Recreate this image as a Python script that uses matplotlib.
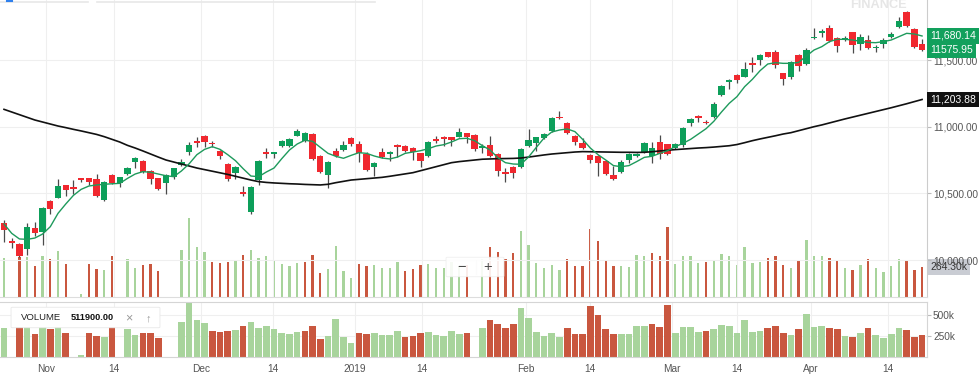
import numpy as np
import matplotlib.pyplot as plt
from matplotlib.patches import FancyBboxPatch

plt.rcParams['font.family'] = ['Liberation Sans', 'DejaVu Sans']

# ---------- Datos ----------
opens = [10280, 10140, 10120, 10080, 10238, 10213, 10445, 10468, 10560, 10550,
         10613, 10613, 10608, 10450, 10640, 10580, 10648, 10733, 10743, 10670,
         10613, 10575, 10625, 10713, 10813, 10893, 10930, 10880, 10820, 10720,
         10650, 10508, 10358, 10600, 10813, 10793, 10855, 10855, 10933, 10893,
         10945, 10780, 10638, 10820, 10825, 10918, 10868, 10795, 10700, 10808,
         10793, 10863, 10858, 10838, 10800, 10780, 10905, 10920, 10920, 10925,
         10950, 10935, 10840, 10863, 10793, 10658, 10700, 10695, 10858, 10880,
         10913, 10968, 11075, 11030, 10933, 10880, 10788, 10783, 10743, 10638,
         10663, 10750, 10780, 10813, 10780, 10883, 10868, 10838, 10863, 11025,
         11080, 11038, 11070, 11238, 11333, 11388, 11375, 11480, 11500, 11558,
         11558, 11400, 11370, 11538, 11470, 11663, 11705, 11743, 11663, 11650,
         11708, 11618, 11650, 11588, 11620, 11675, 11745, 11863, 11730, 11618]

highs = [10300, 10163, 10125, 10280, 10283, 10395, 10450, 10608, 10565, 10600,
         10618, 10618, 10645, 10593, 10645, 10625, 10700, 10775, 10748, 10675,
         10618, 10645, 10690, 10755, 10888, 10920, 10938, 10895, 10825, 10725,
         10705, 10555, 10555, 10750, 10838, 10813, 10900, 10915, 10980, 10963,
         10955, 10785, 10740, 10838, 10895, 10925, 10893, 10813, 10738, 10838,
         10820, 10870, 10863, 10850, 10805, 10893, 10930, 10930, 10925, 10988,
         10955, 10943, 10870, 10930, 10800, 10688, 10705, 10838, 10983, 10925,
         10955, 11072, 11118, 11038, 10938, 10913, 10792, 10787, 10747, 10708,
         10750, 10800, 10805, 10888, 10888, 10938, 10872, 10875, 11000, 11063,
         11088, 11050, 11188, 11313, 11355, 11393, 11488, 11525, 11543, 11563,
         11575, 11405, 11493, 11543, 11588, 11738, 11730, 11763, 11675, 11680,
         11713, 11693, 11688, 11613, 11663, 11708, 11820, 11866, 11738, 11655]

lows = [10138, 10088, 10025, 10038, 10180, 10113, 10345, 10463, 10480, 10495,
        10588, 10563, 10470, 10443, 10570, 10550, 10638, 10688, 10650, 10570,
        10525, 10493, 10608, 10708, 10788, 10850, 10850, 10850, 10755, 10595,
        10608, 10480, 10343, 10563, 10763, 10763, 10850, 10850, 10930, 10888,
        10750, 10650, 10538, 10775, 10820, 10858, 10738, 10670, 10633, 10763,
        10743, 10770, 10813, 10750, 10700, 10775, 10880, 10855, 10858, 10920,
        10875, 10820, 10805, 10775, 10633, 10583, 10618, 10688, 10850, 10820,
        10905, 10963, 11055, 10945, 10863, 10833, 10725, 10630, 10638, 10600,
        10655, 10730, 10770, 10800, 10730, 10755, 10788, 10833, 10850, 11005,
        11033, 11018, 11063, 11233, 11280, 11325, 11370, 11413, 11463, 11520,
        11438, 11313, 11355, 11420, 11463, 11655, 11670, 11638, 11563, 11645,
        11555, 11575, 11580, 11558, 11588, 11663, 11738, 11750, 11588, 11570]

closes = [10225, 10125, 10033, 10250, 10200, 10388, 10385, 10555, 10525, 10530,
          10598, 10588, 10483, 10588, 10580, 10620, 10688, 10768, 10663, 10605,
          10533, 10635, 10688, 10733, 10865, 10880, 10888, 10868, 10783, 10605,
          10700, 10493, 10550, 10740, 10795, 10808, 10893, 10910, 10970, 10955,
          10755, 10663, 10733, 10783, 10863, 10868, 10800, 10675, 10730, 10770,
          10808, 10850, 10820, 10808, 10745, 10888, 10890, 10908, 10900, 10958,
          10925, 10833, 10858, 10780, 10668, 10643, 10655, 10830, 10900, 10920,
          10945, 11068, 11063, 10950, 10888, 10838, 10750, 10725, 10645, 10608,
          10738, 10793, 10795, 10880, 10838, 10795, 10795, 10870, 10993, 11055,
          11063, 11025, 11170, 11305, 11350, 11350, 11430, 11465, 11538, 11525,
          11463, 11358, 11488, 11455, 11575, 11675, 11720, 11645, 11605, 11668,
          11613, 11675, 11593, 11600, 11650, 11695, 11795, 11755, 11600, 11575.95]

# volumen en miles
volumes_k = [348, 0, 360, 360, 280, 363, 339, 414, 290, 0,
             20, 290, 250, 240, 362, 0, 336, 260, 288, 292,
             230, 0, 0, 418, 710, 447, 401, 310, 301, 310,
             320, 376, 418, 350, 367, 330, 292, 278, 301, 308,
             372, 215, 252, 455, 234, 169, 292, 274, 283, 258,
             262, 312, 234, 246, 283, 295, 262, 254, 314, 274,
             283, 0, 343, 443, 399, 342, 391, 590, 463, 302,
             254, 282, 242, 343, 274, 274, 610, 504, 330, 274,
             274, 270, 375, 370, 395, 362, 624, 290, 362, 362,
             302, 310, 330, 383, 370, 282, 443, 302, 314, 350,
             370, 282, 262, 330, 511.9, 362, 370, 350, 330, 254,
             242, 282, 342, 262, 221, 274, 342, 322, 242, 264.3]

# 1 = barra de volumen verde, 0 = roja
vol_up = [1, 1, 0, 1, 0, 1, 0, 1, 0, 0,
          1, 0, 0, 1, 0, 1, 1, 1, 0, 0,
          0, 1, 1, 1, 1, 1, 1, 0, 0, 0,
          1, 0, 1, 1, 1, 1, 1, 1, 1, 0,
          0, 0, 1, 1, 1, 1, 0, 0, 1, 1,
          1, 1, 0, 0, 0, 1, 1, 1, 1, 1,
          0, 0, 1, 0, 0, 0, 0, 1, 1, 1,
          1, 1, 1, 0, 0, 0, 0, 0, 0, 0,
          1, 1, 1, 1, 0, 0, 0, 1, 1, 1,
          1, 0, 1, 1, 1, 1, 1, 1, 1, 0,
          0, 0, 1, 0, 1, 1, 1, 0, 0, 1,
          0, 1, 0, 1, 1, 1, 1, 0, 0, 0]

ma_fast = [10270, 10200, 10158, 10155, 10165, 10195, 10250, 10350, 10420, 10485,
           10530, 10555, 10563, 10568, 10572, 10575, 10612, 10645, 10663, 10658,
           10645, 10632, 10625, 10668, 10722, 10790, 10830, 10850, 10830, 10790,
           10745, 10685, 10630, 10625, 10660, 10690, 10760, 10825, 10870, 10898,
           10890, 10845, 10800, 10778, 10763, 10785, 10805, 10800, 10780, 10765,
           10758, 10772, 10800, 10810, 10820, 10835, 10855, 10865, 10885, 10910,
           10913, 10895, 10858, 10825, 10768, 10730, 10720, 10718, 10773, 10845,
           10915, 10960, 10975, 10983, 10963, 10905, 10840, 10790, 10750, 10708,
           10700, 10708, 10738, 10770, 10778, 10800, 10820, 10850, 10875, 10905,
           10945, 10985, 11040, 11110, 11175, 11225, 11300, 11355, 11420, 11470,
           11480, 11475, 11475, 11482, 11530, 11575, 11600, 11638, 11655, 11655,
           11650, 11640, 11632, 11630, 11638, 11650, 11675, 11700, 11695, 11680.14]

ma_slow = [11130, 11110, 11090, 11070, 11050, 11035, 11020, 11005, 10993, 10980,
           10968, 10955, 10942, 10925, 10905, 10885, 10860, 10840, 10818, 10795,
           10772, 10750, 10735, 10720, 10705, 10690, 10678, 10666, 10654, 10642,
           10628, 10614, 10600, 10588, 10582, 10578, 10575, 10572, 10570, 10567,
           10565, 10563, 10568, 10580, 10590, 10600, 10605, 10610, 10615, 10620,
           10628, 10637, 10646, 10655, 10670, 10685, 10700, 10715, 10730, 10738,
           10744, 10750, 10756, 10758, 10760, 10761, 10762, 10765, 10772, 10780,
           10788, 10795, 10800, 10805, 10810, 10813, 10812, 10811, 10810, 10809,
           10808, 10808, 10807, 10808, 10812, 10818, 10823, 10828, 10832, 10836,
           10840, 10843, 10847, 10852, 10857, 10866, 10880, 10895, 10908, 10920,
           10932, 10945, 10955, 10970, 10985, 11000, 11013, 11028, 11043, 11058,
           11072, 11086, 11100, 11114, 11128, 11142, 11157, 11172, 11188, 11203.88]

tick_pos = [5.5, 14.2, 25.5, 34.9, 45.5, 54.15, 67.6, 76.0, 86.6, 95.0, 104.6, 114.6]
tick_labels = ["Nov", "14", "Dec", "14", "2019", "14", "Feb", "14", "Mar", "14", "Apr", "14"]
price_ticks = [10000, 10500, 11000, 11500]
vol_ticks = [250000, 500000]
hover_bar = 104

# ---------- Colores ----------
GREEN = "#0d9f5a"
RED = "#f0282f"
VGREEN = "#a8d49c"
VRED = "#c9573f"
GRID = "#efefef"
TXT = "#555555"

# ---------- Figura ----------
W, H = 980, 376
def px_rect(x0, y0, x1, y1):
    return [x0 / W, 1 - y1 / H, (x1 - x0) / W, (y1 - y0) / H]

fig = plt.figure(figsize=(W / 100, H / 100), dpi=100)
ax = fig.add_axes(px_rect(0, 0, 926.7, 296.7))
axv = fig.add_axes(px_rect(0, 302.3, 926.7, 356.7))
axo = ax.twinx()
ax.set_zorder(axo.get_zorder() + 1)
ax.patch.set_visible(False)

idx = np.arange(len(closes))
o = np.array(opens)
h = np.array(highs)
l = np.array(lows)
c = np.array(closes)
vol = np.array(volumes_k) * 1000
vcol = np.where(np.array(vol_up) == 1, VGREEN, VRED)

# velas
up = c >= o
body = c - o
body = np.where(np.abs(body) < 7, np.where(up, 7, -7), body)
ax.vlines(idx, l, h, color="#4a4a4a", lw=0.9, zorder=2)
ax.bar(idx, body, bottom=o, width=0.82, color=np.where(up, GREEN, RED),
       linewidth=0, zorder=3)

# medias móviles
ax.plot(idx, ma_slow, color="#111111", lw=1.2, zorder=4)
ax.plot(idx, ma_fast, color="#1e9a5c", lw=1.0, zorder=4)

ax.set_xlim(-0.52, 119.6)
ax.set_ylim(9725, 11950)
ax.set_xticks(tick_pos)
ax.tick_params(axis="x", length=0, labelbottom=False)
ax.yaxis.tick_right()
ax.set_yticks(price_ticks)
ax.set_yticklabels([f"{v:,.2f}" for v in price_ticks])
ax.tick_params(axis="y", length=3, color="#bbbbbb", labelsize=7.3,
               labelcolor=TXT, pad=1.5)
ax.grid(color=GRID, lw=0.8)
ax.set_axisbelow(True)
for s in ["top", "left"]:
    ax.spines[s].set_visible(False)
ax.spines["right"].set_color("#cccccc")
ax.spines["bottom"].set_color("#dddddd")
ax.spines["right"].set_linewidth(0.8)
ax.spines["bottom"].set_linewidth(0.8)

# volumen superpuesto
axo.bar(idx, vol, width=0.3, color=vcol, linewidth=0)
axo.set_ylim(0, 296.7 * 9000)
axo.set_yticks([])
for s in axo.spines.values():
    s.set_visible(False)

# panel de volumen
axv.bar(idx, vol, width=0.86, color=vcol, linewidth=0)
axv.set_xlim(-0.52, 119.6)
axv.set_ylim(0, 657000)
axv.set_xticks(tick_pos)
axv.set_xticklabels(tick_labels)
axv.tick_params(axis="x", length=0, labelsize=7.3, labelcolor=TXT, pad=5)
axv.yaxis.tick_right()
axv.set_yticks(vol_ticks)
axv.set_yticklabels([f"{v // 1000}k" for v in vol_ticks])
axv.tick_params(axis="y", length=3, color="#bbbbbb", labelsize=7.3,
                labelcolor=TXT, pad=1.5)
axv.grid(color=GRID, lw=0.8)
axv.set_axisbelow(True)
axv.spines["left"].set_visible(False)
for s in ["top", "right", "bottom"]:
    axv.spines[s].set_color("#d5d5d5")
    axv.spines[s].set_linewidth(0.8)

# etiquetas de último valor
tr = ax.get_yaxis_transform()
ax.text(1.004, ma_fast[-1], f"{ma_fast[-1]:,.2f}", transform=tr, va="center",
        ha="left", fontsize=7.5, color="white", zorder=10,
        bbox=dict(boxstyle="square,pad=0.28", fc="#12a05c", ec="none"))
ax.text(1.004, closes[-1], f"{closes[-1]:.2f}", transform=tr, va="center",
        ha="left", fontsize=7.5, color="white", zorder=10,
        bbox=dict(boxstyle="square,pad=0.28", fc="#12a05c", ec="none"))
ax.text(1.004, ma_slow[-1], f"{ma_slow[-1]:,.2f}", transform=tr, va="center",
        ha="left", fontsize=7.5, color="white", zorder=10,
        bbox=dict(boxstyle="square,pad=0.28", fc="#111111", ec="none"))
axo.text(1.004, vol[-1], f"{volumes_k[-1]:.2f}k", transform=axo.get_yaxis_transform(),
         va="center", ha="left", fontsize=7.5, color="#333333", zorder=10,
         clip_on=False,
         bbox=dict(boxstyle="square,pad=0.28", fc="#c9ccd3", ec="none"))

# marca de agua y bordes de la barra superior
fig.text(878 / W, 1 - 8 / H, "FINANCE", ha="center", va="baseline",
         fontsize=9.2, fontweight="bold", color="#e6e6e6")
for x0, x1 in [(0, 88), (97, 375)]:
    fig.add_artist(plt.Line2D([x0 / W, x1 / W], [1 - 2 / H, 1 - 2 / H],
                              color="#e8e8e8", lw=1.2, transform=fig.transFigure))
fig.add_artist(plt.Line2D([7 / W, 12 / W], [1 - 1 / H, 1 - 1 / H],
                          color="#2f80ed", lw=1.5, transform=fig.transFigure))

# controles de zoom
fig.patches.append(FancyBboxPatch((448 / W, 1 - 276 / H), 54 / W, 18 / H,
                                  boxstyle="round,pad=0.002", transform=fig.transFigure,
                                  fc="white", ec="#eeeeee", lw=0.6, alpha=0.9, zorder=5))
fig.text(461 / W, 1 - 267 / H, "\u2212", ha="center", va="center", fontsize=10.5,
         color="#4a4a4a", zorder=6)
fig.text(488 / W, 1 - 267 / H, "+", ha="center", va="center", fontsize=10.5,
         color="#4a4a4a", zorder=6)
fig.add_artist(plt.Line2D([476 / W, 476 / W], [1 - 260 / H, 1 - 274 / H],
                          color="#dddddd", lw=0.8, transform=fig.transFigure))

# leyenda del volumen
fig.patches.append(FancyBboxPatch((13 / W, 1 - 327 / H), 145 / W, 19 / H,
                                  boxstyle="round,pad=0.002", transform=fig.transFigure,
                                  fc="white", ec="#e8e8e8", lw=0.6, zorder=5))
fig.text(21 / W, 1 - 318 / H, "VOLUME", ha="left", va="center", fontsize=6.8,
         color="#222222", zorder=6)
fig.text(71 / W, 1 - 318 / H, f"{volumes_k[hover_bar] * 1000:.2f}", ha="left",
         va="center", fontsize=6.6, fontweight="bold", color="#111111", zorder=6)
fig.text(129 / W, 1 - 318 / H, "\u00d7", ha="center", va="center", fontsize=9,
         color="#999999", zorder=6)
fig.text(148 / W, 1 - 318 / H, "\u2191", ha="center", va="center", fontsize=8,
         color="#999999", zorder=6)

plt.savefig("out.png", dpi=100)
